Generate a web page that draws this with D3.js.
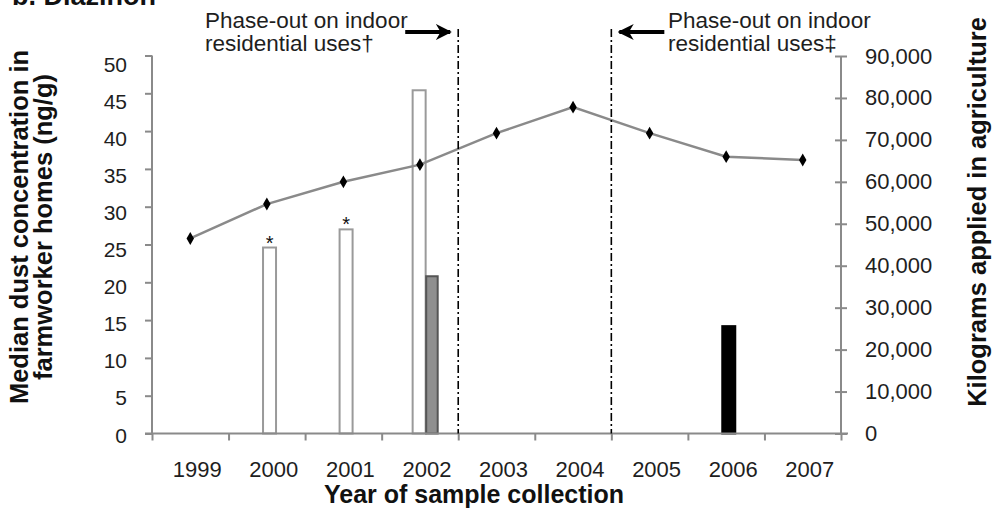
<!DOCTYPE html>
<html>
<head>
<meta charset="utf-8">
<script src="https://cdn.jsdelivr.net/npm/d3@7"></script>
<style>
  body { margin: 0; background: #fff; }
  svg { display: block; font-family: 'Liberation Sans', Arial, sans-serif; }
  .axis path, .axis line { stroke: #8a8a8a; stroke-width: 2; }
  .axis text { fill: #1e1e1e; }
</style>
</head>
<body>
<svg id="chart" width="995" height="512"></svg>
<script>
// values
const years = ['1999', '2000', '2001', '2002', '2003', '2004', '2005', '2006', '2007'];
const kgApplied = [46500, 54700, 60000, 64100, 71600, 77800, 71600, 66000, 65200];
const dustOpenA = [null, 24.6, 27.0, null, null, null, null, null, null];
const dustOpenB = [null, null, null, 45.4, null, null, null, null, null];
const dustGray = [null, null, null, 20.8, null, null, null, null, null];
const dustBlack = [null, null, null, null, null, null, null, 14.2, null];
const starredYears = ['2000', '2001'];
const dustTicks = [0, 5, 10, 15, 20, 25, 30, 35, 40, 45, 50];
const kgTicks = [0, 10000, 20000, 30000, 40000, 50000, 60000, 70000, 80000, 90000];
const phaseOuts = [
  { after: '2002', lines: ['Phase-out on indoor', 'residential uses\u2020'], side: 'left' },
  { after: '2004', lines: ['Phase-out on indoor', 'residential uses\u2021'], side: 'right' },
];

const CONFIG = {
  plotLeft: 152, plotRight: 841, plotTop: 55.5, plotBottom: 433.5,
  series: [
    { values: dustOpenA, fill: '#fff', stroke: '#9a9a9a', dx: 2.7, w: 13 },
    { values: dustOpenB, fill: '#fff', stroke: '#9a9a9a', dx: -0.8, w: 13 },
    { values: dustGray, fill: '#8f8f8f', stroke: '#555', dx: 12, w: 11.5 },
    { values: dustBlack, fill: '#000', stroke: '#000', dx: 2.6, w: 13 },
  ],
};

const main = ({ plotLeft, plotRight, plotTop, plotBottom, series }) => {
  const svg = d3.select('#chart');

  const x = d3.scaleBand().domain(years).range([plotLeft, plotRight]);
  const xEdge = d3.scaleLinear().domain([0, years.length]).range([plotLeft, plotRight]);
  const yDust = d3.scaleLinear().domain([0, 50]).range([plotBottom, plotTop]);
  const yDustLabel = d3.scaleLinear().domain([0, 50]).range([435, 64]);
  const yKg = d3.scaleLinear().domain([0, 90000]).range([plotBottom, 56]);
  const cx = yr => x(yr) + x.bandwidth() / 2;

  // bars
  series.forEach(s => {
    const rows = years.map((yr, i) => ({ yr, v: s.values[i] })).filter(d => d.v != null);
    svg.append('g').selectAll('rect')
      .data(rows)
      .join('rect')
        .attr('x', d => cx(d.yr) + s.dx - s.w / 2)
        .attr('y', d => yDust(d.v))
        .attr('width', s.w)
        .attr('height', d => yDust(0) - yDust(d.v))
        .attr('fill', s.fill)
        .attr('stroke', s.stroke)
        .attr('stroke-width', 2);
  });

  // asterisks over the flagged bars
  svg.append('g').selectAll('text')
    .data(starredYears)
    .join('text')
      .attr('x', d => cx(d) + series[0].dx)
      .attr('y', d => yDust(dustOpenA[years.indexOf(d)]) + 2)
      .attr('text-anchor', 'middle')
      .attr('font-size', 20)
      .attr('fill', '#111')
      .text('*');

  // left axis
  const leftAxis = svg.append('g')
    .attr('class', 'axis')
    .attr('transform', `translate(${plotLeft},0)`)
    .call(d3.axisLeft(yDust).tickValues(dustTicks).tickSize(7).tickSizeOuter(0).tickFormat(''));
  leftAxis.select('.domain').attr('d', `M0,${plotTop}V${plotBottom}`);
  svg.append('g').selectAll('text')
    .data(dustTicks)
    .join('text')
      .attr('x', 127)
      .attr('y', d => yDustLabel(d))
      .attr('dy', '0.36em')
      .attr('text-anchor', 'end')
      .attr('font-size', 21)
      .attr('fill', '#1e1e1e')
      .text(d => d);

  // right axis
  const rightAxis = svg.append('g')
    .attr('class', 'axis')
    .attr('transform', `translate(${plotRight},0)`)
    .call(d3.axisRight(yKg).tickValues(kgTicks).tickSize(6).tickSizeOuter(0).tickPadding(18)
      .tickFormat(d3.format(',')));
  rightAxis.selectAll('.tick line').attr('x1', -6).attr('x2', 6);
  rightAxis.selectAll('text').attr('font-size', 22);
  rightAxis.attr('font-family', null).attr('font-size', null);
  rightAxis.select('.domain').attr('d', `M0,56V${plotBottom}`);

  // x axis: ticks on category edges, labels in the bands
  const xAxis = svg.append('g')
    .attr('class', 'axis')
    .attr('transform', `translate(0,${plotBottom})`)
    .call(d3.axisBottom(xEdge).tickValues(d3.range(years.length + 1)).tickSize(7).tickFormat(''));
  xAxis.select('.domain').attr('d', `M${plotLeft - 7},0H${plotRight + 7}`);
  svg.append('g').selectAll('text')
    .data(years)
    .join('text')
      .attr('x', d => cx(d) + 7)
      .attr('y', 477)
      .attr('text-anchor', 'middle')
      .attr('font-size', 22)
      .attr('fill', '#1e1e1e')
      .text(d => d);

  // line of kilograms applied
  svg.append('path')
    .datum(kgApplied)
    .attr('fill', 'none')
    .attr('stroke', '#8a8a8a')
    .attr('stroke-width', 2.5)
    .attr('d', d3.line().x((d, i) => cx(years[i])).y(d => yKg(d)));
  svg.append('g').selectAll('path')
    .data(kgApplied)
    .join('path')
      .attr('transform', (d, i) => `translate(${cx(years[i])},${yKg(d)})`)
      .attr('d', d3.symbol(d3.symbolDiamond, 48))
      .attr('fill', '#000');

  // phase-out markers
  svg.append('defs').append('marker')
    .attr('id', 'head')
    .attr('viewBox', '0 0 10 10')
    .attr('refX', 9).attr('refY', 5)
    .attr('markerWidth', 4).attr('markerHeight', 4)
    .attr('orient', 'auto')
    .append('path')
      .attr('d', 'M0,0L10,5L0,10L3,5Z')
      .attr('fill', '#000');

  phaseOuts.forEach(p => {
    const xl = x(p.after) + x.bandwidth();
    const tx = p.side === 'left' ? 205 : 668;
    svg.append('line')
      .attr('x1', xl).attr('x2', xl)
      .attr('y1', 29).attr('y2', plotBottom)
      .attr('stroke', '#000')
      .attr('stroke-width', 1.6)
      .attr('stroke-dasharray', '8,3,2,3');
    const ax = p.side === 'left' ? [xl - 53, xl - 8] : [xl + 53, xl + 8];
    svg.append('line')
      .attr('x1', ax[0]).attr('x2', ax[1])
      .attr('y1', 32).attr('y2', 32)
      .attr('stroke', '#000')
      .attr('stroke-width', 4)
      .attr('marker-end', 'url(#head)');
    svg.append('text')
      .attr('y', 28)
      .attr('font-size', 22.5)
      .attr('fill', '#1e1e1e')
      .selectAll('tspan')
      .data(p.lines)
      .join('tspan')
        .attr('x', tx)
        .attr('dy', (d, i) => (i ? 22.5 : 0))
        .text(d => d);
  });

  // titles
  svg.append('text')
    .attr('x', 12).attr('y', 5)
    .attr('font-size', 27).attr('font-weight', 'bold')
    .attr('fill', '#111')
    .text('b. Diazinon');

  svg.append('text')
    .attr('x', 474).attr('y', 503)
    .attr('text-anchor', 'middle')
    .attr('font-size', 25).attr('font-weight', 'bold')
    .attr('fill', '#111')
    .text('Year of sample collection');

  const leftTitle = svg.append('text')
    .attr('transform', 'translate(28,227) rotate(-90)')
    .attr('text-anchor', 'middle')
    .attr('font-size', 25.5).attr('font-weight', 'bold')
    .attr('fill', '#111');
  leftTitle.append('tspan').attr('x', 0).attr('y', 0).text('Median dust concentration in');
  leftTitle.append('tspan').attr('x', 0).attr('y', 24).text('farmworker homes (ng/g)');

  svg.append('text')
    .attr('transform', 'translate(986,212) rotate(-90)')
    .attr('text-anchor', 'middle')
    .attr('font-size', 25.5).attr('font-weight', 'bold')
    .attr('fill', '#111')
    .text('Kilograms applied in agriculture');
};

main(CONFIG);
</script>
</body>
</html>
